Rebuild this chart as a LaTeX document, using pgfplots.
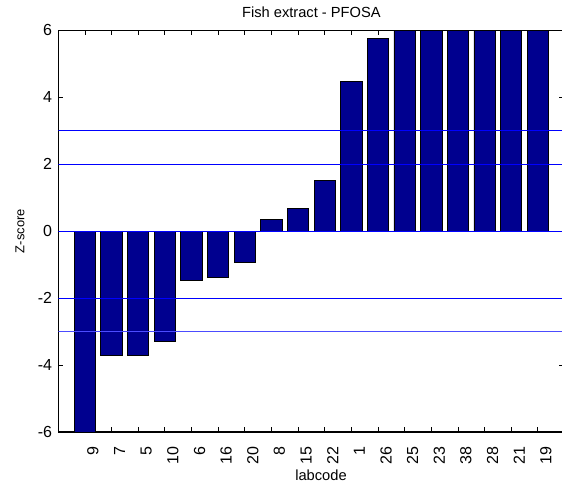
\documentclass[border=0pt]{standalone}
\usepackage{fontspec}
\setmainfont{Liberation Sans}
\usepackage{pgfplots}
\pgfplotsset{compat=1.18}
\definecolor{barnavy}{RGB}{0,0,143}
\definecolor{refblue}{RGB}{0,0,255}

\begin{document}
\begin{tikzpicture}
\begin{axis}[
  name=ax, at={(0,0)}, anchor=south west,
  scale only axis, width=379.7pt, height=301.3pt,
  xmin=0, xmax=19, ymin=-6, ymax=6,
  xtick={1,...,18},
  xticklabels={9,7,5,10,6,16,20,8,15,22,1,26,25,23,38,28,21,19},
  ytick={-6,-4,...,6},
  tick align=inside, major tick length=3.8pt,
  tick style={black, line width=0.6pt},
  axis line style={line width=0.8pt},
  ticklabel style={font=\fontsize{12}{14}\selectfont},
  /pgf/number format/assume math mode=true,
  yticklabel style={anchor=east, inner sep=0pt, xshift=-4.5pt},
  xticklabel style={rotate=90, anchor=east, inner sep=0pt, xshift=-10.5pt, yshift=-6pt},
  title={Fish extract - PFOSA},
  title style={at={(axis description cs:0.5,1)}, anchor=base, yshift=3.5pt, font=\fontsize{11}{13}\selectfont},
  xlabel={labcode},
  xlabel style={at={(axis description cs:0.519,0)}, anchor=base, yshift=-36.75pt, font=\fontsize{11}{13}\selectfont},
  ylabel={Z-score},
  ylabel style={at={(axis description cs:-0.0756,0.5)}, anchor=center, font=\fontsize{9.7}{11}\selectfont},
]
\addplot[ybar, bar width=0.8, fill=barnavy, draw=black, line width=0.6pt] coordinates {
 (1,-6) (2,-3.72) (3,-3.72) (4,-3.29) (5,-1.47) (6,-1.37) (7,-0.92)
 (8,0.36) (9,0.67) (10,1.51) (11,4.48) (12,5.75)
 (13,6) (14,6) (15,6) (16,6) (17,6) (18,6)
};
\addplot[draw=refblue, line width=0.75pt] coordinates {(0,3) (19,3)};
\addplot[draw=refblue, line width=0.75pt] coordinates {(0,2) (19,2)};
\addplot[draw=refblue, line width=0.75pt] coordinates {(0,0) (19,0)};
\addplot[draw=refblue, line width=0.75pt] coordinates {(0,-2) (19,-2)};
\addplot[draw=refblue!70, line width=0.75pt] coordinates {(0,-2.99) (19,-2.99)};
\end{axis}
\pgfresetboundingbox
\path (-43.7pt,-42pt) rectangle (377.8pt,324pt);
\end{tikzpicture}
\end{document}
